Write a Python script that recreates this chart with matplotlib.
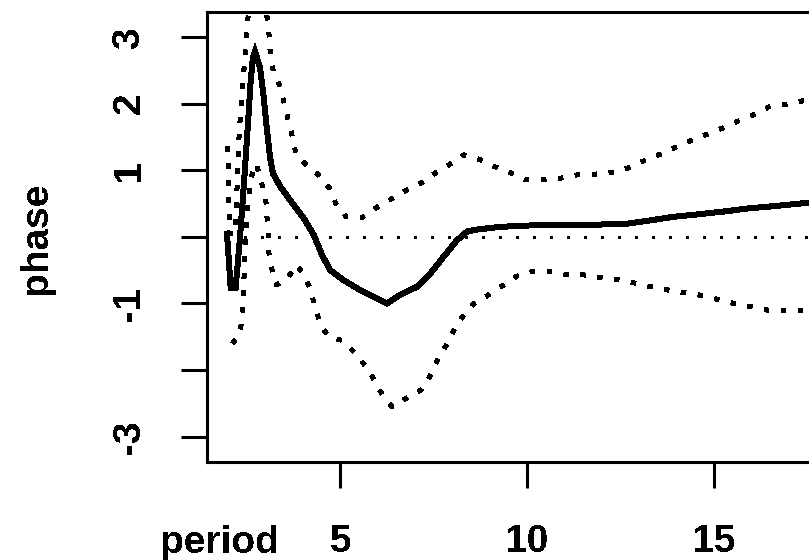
import matplotlib
matplotlib.use("Agg")
import matplotlib.pyplot as plt

plt.rcParams['font.family'] = ['Liberation Sans', 'DejaVu Sans']
plt.rcParams['font.weight'] = 'bold'
plt.rcParams['text.antialiased'] = False

# phase estimate (solid line)
period_est = [1.97, 2.07, 2.20, 2.32, 2.43, 2.52, 2.60, 2.66, 2.72, 2.85, 2.94, 3.03,
              3.12, 3.20, 3.40, 3.66, 4.02, 4.29, 4.51, 4.73, 5.09, 5.53, 5.89, 6.25,
              6.60, 7.05, 7.41, 7.76, 8.12, 8.39, 8.66, 9.28, 10.0, 12.58, 13.2, 13.9,
              14.6, 15.25, 15.96, 16.58, 17.3, 18.0]
phase_est = [0.05, -0.77, -0.77, 0.0, 0.85, 1.6, 2.31, 2.68, 2.78, 2.55, 2.16, 1.65,
             1.2, 0.95, 0.75, 0.55, 0.28, 0.03, -0.27, -0.5, -0.65, -0.8, -0.9, -1.0,
             -0.87, -0.75, -0.55, -0.3, -0.05, 0.08, 0.11, 0.15, 0.17, 0.19, 0.24, 0.30,
             0.34, 0.38, 0.43, 0.46, 0.50, 0.54]

# upper confidence band (dotted)
period_up = [1.99, 2.04, 2.20, 2.27, 2.33, 2.54, 2.80, 3.07, 3.13, 3.21, 3.40, 3.50,
             3.61, 3.72, 3.82, 4.05, 4.42, 4.71, 4.88, 5.16, 5.58, 5.94, 6.34, 6.74,
             7.14, 7.49, 7.90, 8.30, 8.74, 9.10, 9.55, 9.95, 10.39, 10.88, 11.33, 11.77,
             12.22, 12.67, 13.07, 13.51, 13.91, 14.36, 14.76, 15.21, 15.61, 16.05, 16.45,
             16.90, 17.35, 18.0]
phase_up = [1.35, 0.05, 0.05, 1.30, 1.83, 3.35, 3.90, 3.23, 2.73, 2.48, 2.25, 2.0,
            1.75, 1.5, 1.23, 1.10, 0.93, 0.73, 0.5, 0.30, 0.29, 0.43, 0.56, 0.69,
            0.80, 0.94, 1.08, 1.23, 1.16, 1.06, 0.96, 0.86, 0.86, 0.88, 0.93, 0.94,
            0.96, 1.03, 1.13, 1.23, 1.33, 1.44, 1.53, 1.63, 1.73, 1.83, 1.95,
            1.99, 2.04, 2.10]

# lower confidence band (dotted)
period_lo = [2.12, 2.33, 2.40, 2.44, 2.46, 2.59, 2.75, 2.90, 3.01, 3.04, 3.07, 3.09,
             3.17, 3.29, 3.56, 3.84, 4.02, 4.22, 4.31, 4.47, 4.66, 5.07, 5.40, 5.69,
             5.91, 6.14, 6.38, 6.80, 7.18, 7.41, 7.60, 7.83, 8.05, 8.30, 8.58, 8.97,
             9.37, 9.72, 10.13, 10.57, 11.06, 11.50, 11.95, 12.40, 12.84, 13.31, 13.78,
             14.22, 14.67, 15.09, 15.53, 15.98, 16.43, 16.87, 17.34, 18.0]
phase_lo = [-1.60, -1.44, -0.94, -0.42, 0.0, 0.85, 1.10, 0.80, 0.55, 0.29, 0.03, -0.24,
            -0.48, -0.72, -0.64, -0.42, -0.57, -0.80, -1.05, -1.30, -1.49, -1.56, -1.75, -1.95,
            -2.15, -2.39, -2.55, -2.41, -2.29, -2.08, -1.85, -1.63, -1.39, -1.17, -1.0, -0.87,
            -0.72, -0.59, -0.52, -0.52, -0.57, -0.57, -0.61, -0.64, -0.69, -0.75, -0.80,
            -0.84, -0.88, -0.94, -1.0, -1.05, -1.10, -1.11, -1.10, -1.08]

xticks = [5, 10, 15]
yticks = [-3, -2, -1, 0, 1, 2, 3]
ytick_labels = ['-3', '', '-1', '', '1', '2', '3']

W, H = 809, 560
fig = plt.figure(figsize=(W / 100, H / 100), dpi=100)

x_lo, x_hi = 1.436, 18.5
ax = fig.add_axes([207 / W, 1 - 462 / H, (x_hi - x_lo) * 37.4 / W, (462 - 11.7) / H])

ax.plot(period_est, phase_est, color='black', lw=3.6, solid_joinstyle='miter',
        antialiased=False)
for px, py in [(period_up, phase_up), (period_lo, phase_lo)]:
    ax.plot(px, py, color='black', lw=3.0, linestyle=(0, (1, 3)),
            dash_capstyle='butt', antialiased=False)
ax.plot([period_est[0], period_est[-1]], [0, 0], color='black', lw=2.0,
        linestyle=(0, (1, 5.2)), dash_capstyle='butt', antialiased=False)

ax.set_xlim(x_lo, x_hi)
ax.set_ylim(-3.38, 3.38)
ax.set_xticks(xticks)
ax.set_xticklabels([str(t) for t in xticks])
ax.set_yticks(yticks)
ax.set_yticklabels(ytick_labels, rotation=90, va='center')

for s in ax.spines.values():
    s.set_linewidth(2.2)
ax.tick_params(axis='both', length=19, width=2.2, labelsize=28)
ax.tick_params(axis='x', pad=26)
ax.tick_params(axis='y', pad=24)

fig.text(36 / W, 1 - 238 / H, 'phase', rotation=90, ha='center', va='center',
         fontsize=28, fontweight='bold')
fig.text(220 / W, 1 - 553 / H, 'period', ha='center', va='baseline',
         fontsize=28, fontweight='bold')

fig.savefig('out.png', dpi=100)
